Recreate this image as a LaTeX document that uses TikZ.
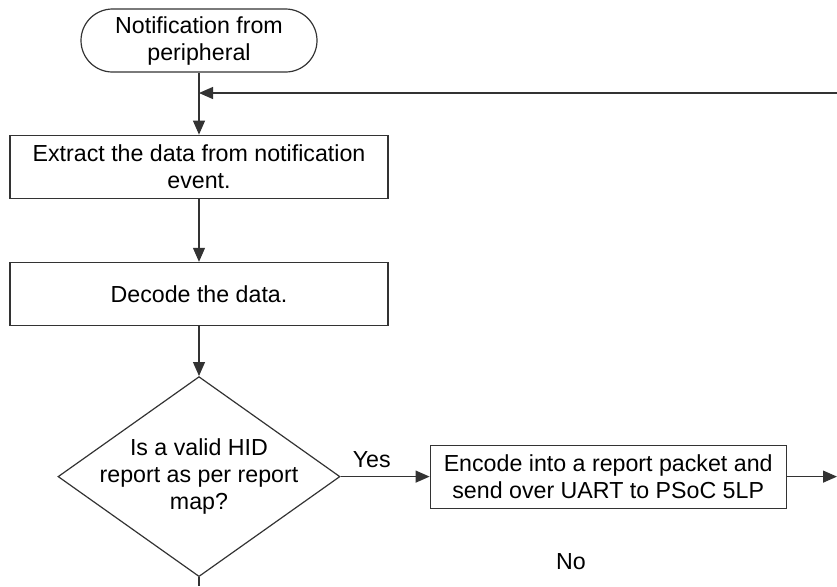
\documentclass[tikz,border=0pt]{standalone}
\usepackage{fontspec}
\setmainfont{Liberation Sans}
\usepackage{tikz}
\usetikzlibrary{positioning,arrows.meta,shapes.geometric}
\definecolor{linea}{HTML}{333333}

\begin{document}
\begin{tikzpicture}[x=0.5pt, y=-0.5pt,
      font=\fontsize{11.6}{13.5}\selectfont,
      term/.style={draw=linea, rectangle, rounded corners=15.75pt, minimum width=118pt,
                minimum height=31.5pt, align=center, line width=0.6pt},
      proc/.style={draw=linea, rectangle, minimum width=189pt, minimum height=31.5pt,
                align=center, line width=0.6pt},
      dec/.style={draw=linea, diamond, minimum width=141pt, minimum height=100pt,
                inner sep=0pt, line width=0.6pt},
      t/.style={-{Triangle[length=7pt, width=6pt]}, draw=linea, line width=0.6pt},
      et/.style={inner sep=1pt}]

    \useasboundingbox (0,0) rectangle (837,586);

    \node[term] (notif) at (199,40.5) {Notification from\\peripheral};
    \node[proc, below=31pt of notif] (extract) {Extract the data from notification\\event.};
    \node[proc, below=31.5pt of extract] (decode) {Decode the data.};
    \node[dec, below=25pt of decode] (check) {};
    \node[align=center] (checktxt) at (check) {Is a valid HID\\report as per report\\map?};
    \node[proc, minimum width=178pt, right=44.5pt of check] (encode)
      {Encode into a report packet and\\send over UART to PSoC 5LP};

    % borde derecho e inferior
    \coordinate (redge) at (837,93);
    \coordinate (bedge) at (199,586);

    % camino principal
    \draw[t] (notif) -- (extract);
    \draw[t] (extract) -- (decode);
    \draw[t] (decode) -- (check);
    \draw[t] (check) -- node[above, et, pos=0.35, yshift=3pt]{Yes} (encode);
    \draw[t] (encode) -- (encode.east -| redge);
    \draw[draw=linea, line width=0.6pt] (check) -- (check.south |- bedge);

    % vuelta desde la derecha
    \draw[t] (redge) -- (redge -| notif.south);

    \node (no) at (571,562) {No};
  \end{tikzpicture}
\end{document}
